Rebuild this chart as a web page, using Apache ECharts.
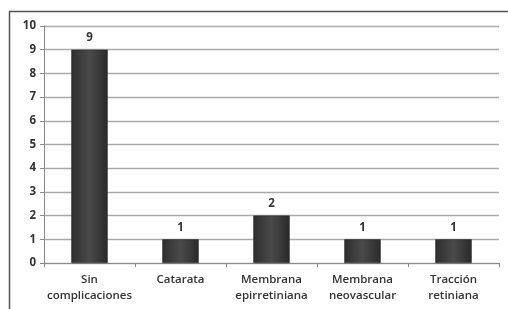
<!DOCTYPE html>
<html><head><meta charset="utf-8">
<script src="https://cdn.jsdelivr.net/npm/echarts@6/dist/echarts.min.js"></script>
<style>html,body{margin:0;padding:0;background:#fff}#c{width:508px;height:309px}</style>
</head><body><div id="c"></div>
<script>
var categories = ['Sin\ncomplicaciones', 'Catarata', 'Membrana\nepirretiniana', 'Membrana\nneovascular', 'Tracción\nretiniana'];
var values = [9, 1, 2, 1, 1];
var yTicks = [0, 1, 2, 3, 4, 5, 6, 7, 8, 9, 10];

var chart = echarts.init(document.getElementById('c'), null, {renderer: 'canvas'});
var font = 'Open Sans';
chart.setOption({
  animation: false,
  graphic: [{
    type: 'rect', shape: {x: 9.5, y: 11.5, width: 520, height: 320},
    style: {fill: 'none', stroke: '#555', lineWidth: 1.5}, z: -1
  }],
  grid: {left: 44, right: 9, top: 26, bottom: 46},
  xAxis: {
    type: 'category', data: categories,
    axisLine: {lineStyle: {color: '#888', width: 1}},
    axisTick: {show: true, length: 4, alignWithLabel: false, lineStyle: {color: '#888'}},
    axisLabel: {color: '#333', fontFamily: font, fontSize: 11.5, fontWeight: 600, lineHeight: 16, margin: 9, interval: 0}
  },
  yAxis: {
    type: 'value', min: yTicks[0], max: yTicks[yTicks.length - 1], interval: 1,
    axisLine: {show: true, lineStyle: {color: '#888'}},
    axisTick: {show: true, length: 4, lineStyle: {color: '#888'}},
    axisLabel: {color: '#333', fontFamily: font, fontSize: 11.5, fontWeight: 700, margin: 8},
    splitLine: {lineStyle: {color: '#aaa', width: 1.3}}
  },
  series: [{
    type: 'bar', data: values, barWidth: '40%',
    itemStyle: {
      color: new echarts.graphic.LinearGradient(0, 0, 1, 0, [
        {offset: 0, color: '#2e2e2e'},
        {offset: 0.5, color: '#4a4a4a'},
        {offset: 1, color: '#2a2a2a'}
      ]),
      borderColor: '#222', borderWidth: 0.5
    },
    label: {show: true, position: 'top', distance: 6, color: '#333', fontFamily: font, fontSize: 11.5, fontWeight: 700}
  }]
});
</script></body></html>
